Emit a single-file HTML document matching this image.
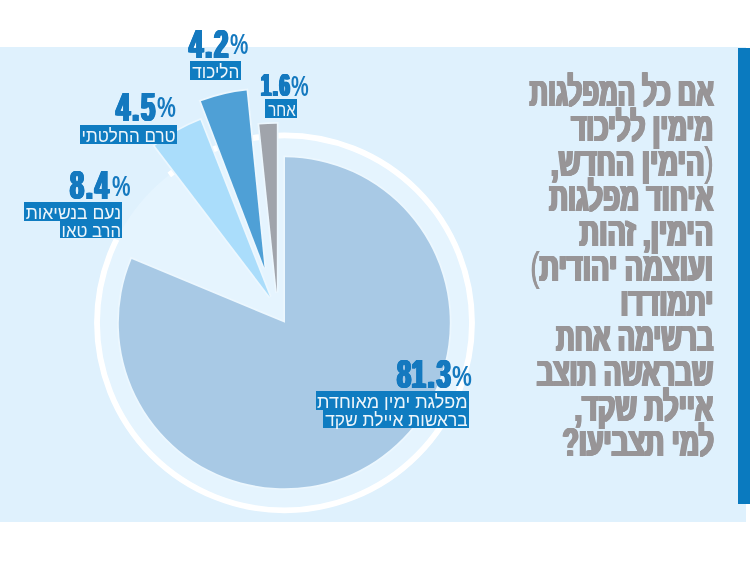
<!DOCTYPE html>
<html><head><meta charset="utf-8"><title>chart</title>
<style>
html,body{margin:0;padding:0;background:#fff;}
body{width:750px;height:570px;position:relative;overflow:hidden;font-family:"Liberation Sans",sans-serif;}
#panel{position:absolute;left:0;top:46.5px;width:745.5px;height:475.6px;background:#dff1fd;}
#bar{position:absolute;left:738px;top:47.5px;width:12px;height:456.5px;background:#0a7abf;}
svg{position:absolute;left:0;top:0;}
.num{position:absolute;font-weight:bold;color:#1579bf;white-space:nowrap;line-height:1.15;transform-origin:0 0;letter-spacing:0;}
.pct{position:absolute;font-weight:bold;color:#1579bf;white-space:nowrap;line-height:1.15;transform-origin:0 0;}
.box{position:absolute;background:#0f7cc1;color:rgba(255,255,255,0.93);font-size:18px;white-space:nowrap;direction:rtl;text-align:right;padding-right:1.2px;box-sizing:border-box;overflow:visible;}
.ttl{position:absolute;right:36.5px;direction:rtl;white-space:nowrap;font-weight:bold;font-size:41.0px;line-height:1.15;color:#989597;transform:scaleX(0.625);transform-origin:100% 0;text-shadow:0.63px 0 0 #989597,-0.63px 0 0 #989597,1.27px 0 0 #989597,-1.27px 0 0 #989597,1.90px 0 0 #989597,-1.90px 0 0 #989597;}
.par{font-weight:normal;text-shadow:0.6px 0 0 #989597,-0.6px 0 0 #989597;}
</style></head>
<body>
<div id="panel"></div>
<div id="bar"></div>
<svg width="750" height="570" viewBox="0 0 750 570">
<defs><mask id="rm" maskUnits="userSpaceOnUse" x="0" y="0" width="750" height="570"><rect x="0" y="0" width="750" height="570" fill="#fff"/><path d="M264.90,301.50 L126.23,118.01 A230.00,230.00 0 0 0 52.69,212.82 Z" fill="#000"/></mask></defs>
<circle cx="284.5" cy="322.8" r="187.5" fill="#e5f4fe"/>
<circle cx="284.5" cy="322.8" r="187.5" fill="none" stroke="#ffffff" stroke-width="5.8" mask="url(#rm)"/>
<path d="M270.00,296.90 L200.36,120.12 A190.00,190.00 0 0 0 154.86,145.76 Z" fill="#aaddfb" stroke="#ecf7fe" stroke-width="3.4" stroke-linejoin="miter" paint-order="stroke"/>
<path d="M264.50,268.00 L246.59,90.40 A178.50,178.50 0 0 0 200.88,101.22 Z" fill="#4fa0d6" stroke="#ecf7fe" stroke-width="3.4" stroke-linejoin="miter" paint-order="stroke"/>
<path d="M276.80,292.50 L276.80,123.70 A168.80,168.80 0 0 0 259.30,124.61 Z" fill="#a0a4ab" stroke="#ecf7fe" stroke-width="3.4" stroke-linejoin="miter" paint-order="stroke"/>
<path d="M285.0,322.80 L285.0,157.30 A165.50,165.50 0 1 1 131.60,258.99 Z" fill="#a8c9e5" stroke="#ecf7fe" stroke-width="3.4" stroke-linejoin="miter" paint-order="stroke"/>
</svg>
<div class="num" style="left:189.34px;top:20.99px;font-size:40.76px;letter-spacing:1.0px;transform:scaleX(0.6278);text-shadow:0.72px 0 0 #1579bf,-0.72px 0 0 #1579bf,1.43px 0 0 #1579bf,-1.43px 0 0 #1579bf,2.15px 0 0 #1579bf,-2.15px 0 0 #1579bf">4<span style="margin:0 2.0px">.</span>2</div>
<div class="num" style="left:260.66px;top:68.19px;font-size:31.41px;letter-spacing:1.0px;transform:scaleX(0.5761);text-shadow:0.78px 0 0 #1579bf,-0.78px 0 0 #1579bf,1.56px 0 0 #1579bf,-1.56px 0 0 #1579bf,2.34px 0 0 #1579bf,-2.34px 0 0 #1579bf">1<span style="margin:0 2.0px">.</span>6</div>
<div class="num" style="left:116.14px;top:84.25px;font-size:41.35px;letter-spacing:1.0px;transform:scaleX(0.6172);text-shadow:0.73px 0 0 #1579bf,-0.73px 0 0 #1579bf,1.46px 0 0 #1579bf,-1.46px 0 0 #1579bf,2.19px 0 0 #1579bf,-2.19px 0 0 #1579bf">4<span style="margin:0 2.0px">.</span>5</div>
<div class="num" style="left:70.39px;top:161.98px;font-size:41.20px;letter-spacing:1.0px;transform:scaleX(0.6126);text-shadow:0.73px 0 0 #1579bf,-0.73px 0 0 #1579bf,1.47px 0 0 #1579bf,-1.47px 0 0 #1579bf,2.20px 0 0 #1579bf,-2.20px 0 0 #1579bf">8<span style="margin:0 2.0px">.</span>4</div>
<div class="num" style="left:396.59px;top:351.40px;font-size:40.32px;letter-spacing:1.0px;transform:scaleX(0.6280);text-shadow:0.72px 0 0 #1579bf,-0.72px 0 0 #1579bf,1.43px 0 0 #1579bf,-1.43px 0 0 #1579bf,2.15px 0 0 #1579bf,-2.15px 0 0 #1579bf">81<span style="margin:0 2.0px">.</span>3</div>
<div class="pct" style="left:230.28px;top:27.05px;font-size:30.00px;transform:scaleX(0.6867)">%</div>
<div class="pct" style="left:290.60px;top:68.55px;font-size:30.00px;transform:scaleX(0.6627)">%</div>
<div class="pct" style="left:157.36px;top:90.25px;font-size:30.00px;transform:scaleX(0.7068)">%</div>
<div class="pct" style="left:111.67px;top:168.95px;font-size:30.00px;transform:scaleX(0.6948)">%</div>
<div class="pct" style="left:451.73px;top:359.05px;font-size:30.00px;transform:scaleX(0.7430)">%</div>
<div class="box" style="left:190.3px;top:61.1px;width:50.4px;height:19.1px;line-height:22.7px"><span style="display:inline-block;transform:scaleX(0.9554);transform-origin:100% 50%">הליכוד</span></div>
<div class="box" style="left:265.0px;top:99.1px;width:31.9px;height:18.6px;line-height:22.2px"><span style="display:inline-block;transform:scaleX(0.8396);transform-origin:100% 50%">אחר</span></div>
<div class="box" style="left:80.1px;top:125.3px;width:96.6px;height:19.0px;line-height:22.6px"><span style="display:inline-block;transform:scaleX(0.9441);transform-origin:100% 50%">טרם החלטתי</span></div>
<div class="box" style="left:23.5px;top:201.6px;width:98.3px;height:19.1px;line-height:22.7px"><span style="display:inline-block;transform:scaleX(0.9725);transform-origin:100% 50%">נעם בנשיאות</span></div>
<div class="box" style="left:60.3px;top:220.7px;width:61.5px;height:17.6px;line-height:21.2px"><span style="display:inline-block;transform:scaleX(0.9287);transform-origin:100% 50%">הרב טאו</span></div>
<div class="box" style="left:315.6px;top:391.3px;width:153.6px;height:18.7px;line-height:22.3px"><span style="display:inline-block;transform:scaleX(0.9995);transform-origin:100% 50%">מפלגת ימין מאוחדת</span></div>
<div class="box" style="left:322.8px;top:410.0px;width:146.4px;height:18.0px;line-height:21.6px"><span style="display:inline-block;transform:scaleX(0.9651);transform-origin:100% 50%">בראשות איילת שקד</span></div>
<div class="ttl" style="top:69.19px;transform:scaleX(0.6269)">אם כל המפלגות</div>
<div class="ttl" style="top:104.19px;transform:scaleX(0.6331)">מימין לליכוד</div>
<div class="ttl" style="top:139.19px;transform:scaleX(0.6675)"><span class="par">(</span>הימין החדש,</div>
<div class="ttl" style="top:174.19px;transform:scaleX(0.6406)">איחוד מפלגות</div>
<div class="ttl" style="top:209.19px;transform:scaleX(0.6675)">הימין, זהות</div>
<div class="ttl" style="top:244.19px;transform:scaleX(0.6663)">ועוצמה יהודית<span class="par">)</span></div>
<div class="ttl" style="top:279.19px;transform:scaleX(0.6475)">יתמודדו</div>
<div class="ttl" style="top:314.19px;transform:scaleX(0.6306)">ברשימה אחת</div>
<div class="ttl" style="top:349.19px;transform:scaleX(0.6412)">שבראשה תוצב</div>
<div class="ttl" style="top:384.19px;transform:scaleX(0.6562)">איילת שקד,</div>
<div class="ttl" style="top:419.19px;transform:scaleX(0.6531)">למי תצביעו?</div>
</body></html>
